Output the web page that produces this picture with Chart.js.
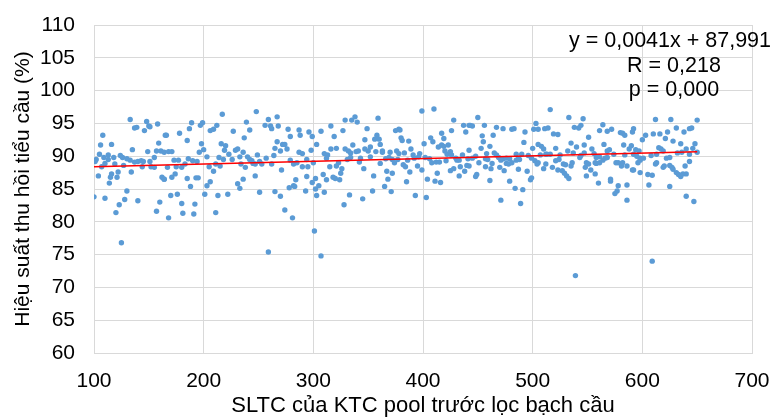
<!DOCTYPE html>
<html>
<head>
<meta charset="utf-8">
<script src="https://cdn.jsdelivr.net/npm/chart.js@4"></script>
<style>
  html, body { margin: 0; padding: 0; background: #ffffff; }
  #wrap { width: 776px; height: 417px; }
</style>
</head>
<body>
<div id="wrap"><canvas id="chart" width="776" height="417"></canvas></div>
<script>
// points, grouped by x band
const band100 = [[133,95.6],[148,95.3],[150,94.6],[158,94.9],[137,94.3],[139,94.4],[146,93.9],[151,94.5],
  [108,93.2],[106,91.7],[116,91.8],[135,91.0],[165,93.2],[159,92.0],[149,90.7],[157,90.8],[161,90.8],
  [105,90.3],[102,89.5],[101,89.2],[109,89.8],[113,90.2],[118,89.8],[113,89.5],[124,90.1],[126,89.8],
  [130,89.6],[133,89.4],[137,89.1],[140,89.2],[143,89.3],[145,89.2],[151,89.2],[155,89.8],[164,90.6],
  [127,88.6],[107,88.4],[110,88.9],[119,88.8],[134,87.6],[144,88.4],[152,88.4],[155,88.3],
  [104,87.0],[116,87.3],[115,86.8],[122,87.6],[121,86.8],[114,85.9],[162,86.8],[164,86.5],
  [100,83.8],[110,83.6],[130,84.7],[128,83.4],[123,82.6],[120,81.4],[140,83.2],[160,83.0],[157,81.6],
  [125,76.8]];
const band170 = [[217,96.4],[189,95.1],[199,95.1],[197,94.7],[187,94.2],[178,93.5],[166,93.2],[185,92.4],
  [206,93.9],[209,94.1],[212,94.7],[227,93.8],
  [198,91.9],[200,91.0],[216,91.9],[220,91.6],[219,90.9],[223,90.3],[229,90.9],[231,91.1],[203,89.9],[196,90.6],
  [168,90.7],[171,90.7],[173,89.4],[177,89.4],[186,89.6],[190,89.3],[194,89.2],[214,89.8],[218,89.5],[226,89.5],[233,89.9],
  [167,88.3],[175,88.4],[180,88.3],[183,88.8],[205,88.4],[211,88.8],[215,88.5],[209,87.7],
  [164,86.5],[171,86.8],[174,87.3],[185,86.6],[193,86.7],[195,86.7],[206,86.1],[203,85.5],[188,85.4],[231,85.8],[233,85.1],
  [170,84.0],[176,84.2],[201,84.2],[213,84.0],[222,84.2],[180,82.8],[192,82.7],[181,81.3],[191,81.2],[211,81.4],[168,80.6]];
const band235 = [[248,96.8],[239,95.2],[259,95.6],[267,96.0],[256,94.7],[261,94.6],[262,94.2],[268,94.6],
  [242,94.0],[237,92.8],[277,94.1],[287,94.0],[279,93.0],[288,93.2],[296,93.7],[299,93.0],
  [267,92.2],[272,91.8],[274,91.8],[265,91.2],[276,91.1],[270,90.8],[298,90.9],[303,91.8],
  [236,90.6],[240,89.9],[242,89.5],[244,89.3],[249,90.2],[257,89.7],[264,90.1],[287,90.6],[290,90.4],[294,89.5],[279,89.4],
  [234,88.8],[238,88.3],[245,88.9],[247,88.8],[251,89.2],[253,88.8],[262,88.8],[282,88.8],[285,89.0],[290,88.4],[295,88.4],[300,89.0],
  [271,87.9],[247,87.0],[236,86.5],[251,84.5],[265,84.6],[284,86.4],[282,85.5],[278,85.2],[283,85.4],[293,84.7],
  [294,86.9],[299,86.0],[302,85.0],[303,84.0],[270,83.9],
  [274,81.8],[281,80.6],[301,78.6],[259,75.4]];
const band305 = [[359,95.8],[335,95.5],[338,96.0],[340,95.2],[329,95.5],[316,94.6],[307,93.8],[327,93.9],[349,94.2],[319,93.0],
  [316,91.1],[321,91.2],[329,91.1],[332,90.8],[336,91.7],[347,92.5],[356,92.6],[358,93.2],[360,92.6],[361,91.8],
  [347,91.1],[350,90.8],[352,91.4],[357,90.7],[363,90.8],[370,90.6],[369,89.8],[372,89.5],
  [310,90.4],[313,90.2],[312,89.7],[334,90.5],[339,90.7],[341,90.8],[334,89.8],[331,89.5],[343,89.7],[342,89.1],
  [352,89.9],[363,90.6],[366,89.6],[361,88.9],
  [323,89.0],[321,88.5],[315,88.4],[326,88.1],[325,87.4],[318,86.8],[320,86.6],[324,86.4],[309,87.2],[312,86.4],[302,86.6],
  [346,88.1],[355,87.0],[367,87.7],[372,87.4],[368,86.5],[365,85.4],
  [305,85.5],[310,84.5],[333,84.1],[328,82.6],[345,83.5],[354,84.7],[371,84.6],
  [307,74.8]];
const band375 = [[399,96.9],[410,97.2],[428,95.5],[437,94.7],[442,94.7],[378,94.1],[379,94.0],[375,93.9],[380,92.8],
  [381,92.4],[387,92.3],[401,91.9],[407,92.8],[409,92.2],[417,93.5],[419,92.7],[426,93.9],[439,93.7],
  [376,90.8],[378,90.4],[383,90.5],[389,91.1],[391,90.2],[397,90.4],[402,89.8],[406,89.6],[417,91.7],[414,91.4],
  [419,91.5],[423,91.7],[420,90.8],[422,90.3],[425,90.7],[426,90.2],[430,89.7],[436,90.2],[442,90.9],
  [374,89.0],[377,89.5],[382,88.7],[384,88.4],[386,89.4],[388,87.6],[392,89.7],[395,88.5],[396,89.9],[399,87.9],
  [408,89.0],[412,89.1],[415,89.1],[421,89.3],[431,89.4],[433,89.4],[434,88.4],[425,87.8],[428,88.1],[438,87.7],
  [440,88.6],[442,88.5],[433,87.0],
  [404,86.5],[411,86.2],[416,86.0],[413,87.4],[385,86.1],[393,84.0],[403,83.7]];
const band440 = [[450,95.9],[443,94.7],[445,94.6],[456,94.7],[467,94.4],[473,94.2],[481,94.1],[483,94.2],[503,95.0],
  [501,94.1],[505,94.1],[511,94.2],[493,93.7],
  [454,93.1],[464,93.2],[455,92.2],[461,91.5],[453,91.2],[492,92.1],[505,91.8],[508,91.5],[500,91.2],[510,91.1],
  [441,89.6],[445,89.7],[448,90.0],[458,90.4],[465,90.5],[467,90.2],[469,89.8],[473,89.6],[476,89.7],[479,89.6],
  [485,90.3],[490,90.3],[496,90.1],[499,89.7],[507,90.2],[512,90.3],
  [451,89.0],[457,89.6],[459,89.5],[463,88.9],[457,88.4],[462,88.1],[470,88.3],[471,89.4],[474,87.8],[476,88.9],
  [478,88.8],[481,89.0],[485,89.4],[487,89.6],[488,89.5],[502,89.3],[505,89.0],[504,88.8],[487,88.0],[495,87.7],
  [510,88.1],[512,88.8],
  [449,87.2],[448,86.9],[461,86.3],[479,86.2],[498,86.4],[499,86.7],[484,85.1],[491,84.9],[471,83.3],[489,82.8]];
const band510 = [[516,97.1],[533,95.9],[546,95.7],[538,94.4],[542,94.3],[544,94.7],[514,94.3],[561,93.9],[564,94.8],
  [568,93.8],[572,94.1],[580,93.6],
  [519,93.4],[523,93.3],[551,92.9],[535,92.0],[540,91.4],[547,91.7],[521,91.2],[565,91.8],[568,90.8],[570,91.0],
  [513,90.3],[516,90.3],[525,90.2],[532,90.8],[537,90.5],[543,89.8],[544,90.1],[547,90.5],[554,91.1],[556,90.4],
  [558,89.8],[561,89.9],[566,89.7],[574,90.3],[578,89.0],[581,88.5],
  [518,88.3],[521,89.3],[524,89.5],[523,87.9],[527,87.8],[529,87.4],[528,88.8],[530,88.7],[531,87.0],[533,86.6],
  [535,88.5],[536,89.0],[548,88.3],[549,89.0],[551,88.8],[553,87.9],[557,89.0],[558,88.9],[561,89.0],[564,89.4],
  [568,89.8],[576,89.0],
  [549,87.0],[557,87.3],[560,85.9],[571,86.5],[571,86.2],[578,85.5],[577,84.7],[575,84.3],
  [539,71.8]];
const band580 = [[612,95.6],[626,95.6],[650,95.5],[643,94.2],[645,94.3],[592,94.2],[591,93.7],[582,93.5],[584,93.2],
  [603,93.2],[600,92.5],[610,93.4],[616,93.4],[621,92.7],[623,93.7],[631,94.3],[628,92.3],[635,91.9],[638,93.7],[648,91.9],
  [583,91.7],[590,91.6],[588,91.1],[584,90.2],[594,91.0],[597,90.8],[592,90.3],[595,90.0],[598,89.7],[601,89.7],
  [608,90.1],[615,91.3],[617,91.1],[619,90.8],[613,90.3],[622,89.7],[625,89.8],[632,90.5],[636,90.6],[640,91.1],
  [646,91.2],[643,90.3],[650,90.6],
  [582,89.0],[586,88.5],[591,87.9],[592,87.9],[596,89.0],[598,89.4],[612,88.8],[613,89.0],[620,88.5],[619,88.3],
  [625,88.6],[627,88.3],[628,88.0],[631,87.5],[633,87.2],[635,86.9],[637,87.3],[639,88.5],[643,89.2],[640,87.3],
  [598,87.5],[605,87.2],[609,87.1],[606,85.6],[586,85.6],[586,83.3],[625,85.4],[640,83.9],[647,83.1],
  [609,74.0]];

const trendX = [100, 650];
const trendY = [88.4, 90.66];

const xTicks = [100, 200, 300, 400, 500, 600, 700];
const yTicks = [60, 65, 70, 75, 80, 85, 90, 95, 100, 105, 110];

const statLines = ["y = 0,0041x + 87,991", "R = 0,218", "p = 0,000"];
const xTitle = "SLTC của KTC pool trước lọc bạch cầu";
const yTitle = "Hiệu suất thu hồi tiểu cầu (%)";

const FONT = "'Liberation Sans', Arial, sans-serif";

const points = [band100, band170, band235, band305, band375, band440, band510, band580]
  .flat()
  .map(([x, y]) => ({ x, y }));
const trend = trendX.map((x, i) => ({ x, y: trendY[i] }));

const statsPlugin = {
  id: "stats",
  afterDraw(chart) {
    const { ctx } = chart;
    ctx.save();
    ctx.fillStyle = "#000000";
    ctx.font = "21.5px " + FONT;
    ctx.textAlign = "center";
    ctx.textBaseline = "middle";
    statLines.forEach((line, i) => {
      ctx.fillText(line, i === 0 ? 670 : 674, 41 + i * 24.6);
    });
    ctx.restore();
  },
};

new Chart(document.getElementById("chart"), {
  type: "scatter",
  plugins: [statsPlugin],
  data: {
    datasets: [
      {
        type: "line",
        data: trend,
        borderColor: "#ff0000",
        borderWidth: 1.5,
        pointRadius: 0,
        fill: false,
      },
      {
        data: points,
        backgroundColor: "#5b9bd5",
        borderWidth: 0,
        pointRadius: 2.7,
      },
    ],
  },
  options: {
    responsive: false,
    animation: false,
    events: [],
    layout: { padding: { top: 25, right: 24, left: 0, bottom: 0 } },
    plugins: {
      legend: { display: false },
      tooltip: { enabled: false },
    },
    scales: {
      x: {
        type: "linear",
        min: 100,
        max: 700,
        afterFit: (scale) => {
          scale.height = 64;
          scale.paddingLeft = 0;
          scale.paddingRight = 0;
        },
        afterBuildTicks: (scale) => { scale.ticks = xTicks.map((v) => ({ value: v })); },
        ticks: { color: "#000000", font: { size: 21, family: FONT }, padding: 16, maxRotation: 0 },
        grid: { color: "#d9d9d9", drawTicks: false },
        border: { color: "#d9d9d9" },
        title: {
          display: true,
          text: xTitle,
          color: "#000000",
          font: { size: 22, family: FONT, lineHeight: 0.9 },
          padding: { top: 0, bottom: 1 },
        },
      },
      y: {
        min: 60,
        max: 110,
        afterFit: (scale) => {
          scale.width = 94;
          scale.paddingTop = 0;
          scale.paddingBottom = 0;
        },
        afterBuildTicks: (scale) => { scale.ticks = yTicks.map((v) => ({ value: v })); },
        ticks: { color: "#000000", font: { size: 21, family: FONT }, padding: 19 },
        grid: { color: "#d9d9d9", drawTicks: false },
        border: { color: "#d9d9d9" },
        title: {
          display: true,
          text: yTitle,
          color: "#000000",
          font: { size: 21, family: FONT },
          padding: { top: 11, bottom: 0 },
        },
      },
    },
  },
});
</script>
</body>
</html>
